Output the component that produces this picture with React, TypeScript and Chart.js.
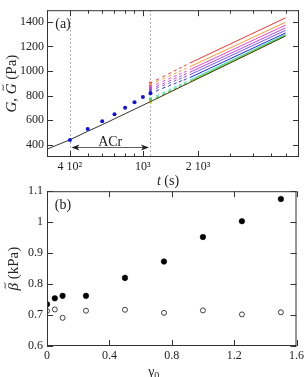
import React, { useEffect, useRef } from 'react';
import { Chart, registerables } from 'chart.js';
Chart.register(...registerables);

const SERIF = "'Liberation Serif', 'Times New Roman', serif";
const INK = '#222222';

// ---------- panel (a) ----------
const aXTicks = [300, 400, 500, 600, 700, 800, 900, 1000, 2000, 3000, 4000, 5000, 6000, 7000];
const aXTickLabels: Record<string, string> = { '400': '4 10²', '1000': '10³', '2000': '2 10³' };
const aYTicks = [400, 600, 800, 1000, 1200, 1400];
const markerTimes = [400, 1100];
const acrLabel = 'ACr';
const acrG = 382;

const preShearT = [400, 500, 600, 700, 800, 900, 1000, 1100];
const preShearG = [438, 528, 592, 648, 700, 746, 789, 818];

const masterT = [300, 400, 500, 600, 800, 1100, 1800, 3000, 6000];
const masterG = [364, 440, 509, 563, 652, 751, 906, 1066, 1285];

// colored recovery series: yellow (γ0 = 0) ... red (γ0 = 1.5)
const seriesColors = ['#e0e000', '#33cc33', '#33dddd', '#2222ee', '#7755ff', '#bb44ee', '#ee44cc', '#ff9933', '#ff3333'];
const startT = 1100;
const startG = [748, 762, 775, 820, 840, 853, 872, 890, 902];
const dashT = [1200, 1300, 1400, 1500, 1600, 1700];
const dashG = [
  [777, 803, 827, 850, 871, 891],
  [789, 814, 837, 858, 878, 897],
  [802, 826, 849, 870, 889, 908],
  [842, 863, 882, 899, 916, 931],
  [863, 884, 903, 921, 938, 954],
  [877, 899, 920, 939, 957, 973],
  [896, 919, 940, 959, 977, 994],
  [916, 939, 961, 981, 1000, 1018],
  [931, 957, 981, 1004, 1025, 1045],
];
const solidT = [1800, 6000];
const solidG = [
  [910, 1287],
  [915, 1292],
  [925, 1298],
  [946, 1310],
  [969, 1331],
  [989, 1351],
  [1010, 1374],
  [1035, 1397],
  [1064, 1433],
];

// ---------- panel (b) ----------
const gamma0 = [0, 0.05, 0.1, 0.25, 0.5, 0.75, 1, 1.25, 1.5];
const betaFilled = [0.735, 0.754, 0.762, 0.762, 0.82, 0.873, 0.952, 1.003, 1.075];
const betaOpen = [0.713, 0.718, 0.691, 0.714, 0.717, 0.707, 0.715, 0.702, 0.709];
const bXTicks = [0, 0.4, 0.8, 1.2, 1.6];
const bYTicks = [0.6, 0.7, 0.8, 0.9, 1.0, 1.1];

type Seg = { t: string; it?: boolean; tilde?: boolean; sub?: boolean };

const titleTopY: Seg[] = [{ t: 'G', it: true }, { t: ', ' }, { t: 'G', it: true, tilde: true }, { t: ' (Pa)' }];
const titleTopX: Seg[] = [{ t: 't', it: true }, { t: ' (s)' }];
const titleBotY: Seg[] = [{ t: 'β', it: true, tilde: true }, { t: ' (kPa)' }];
const titleBotX: Seg[] = [{ t: 'γ' }, { t: '0', sub: true }];

function pts(xs: number[], ys: number[]) {
  return xs.map((x, i) => ({ x, y: ys[i] }));
}

function drawRich(ctx: CanvasRenderingContext2D, segs: Seg[], cx: number, cy: number, size: number, rotate: boolean) {
  ctx.save();
  ctx.translate(cx, cy);
  if (rotate) ctx.rotate(-Math.PI / 2);
  ctx.fillStyle = INK;
  ctx.strokeStyle = INK;
  const fontFor = (s: Seg) => `${s.it ? 'italic ' : ''}${s.sub ? Math.round(size * 0.7) : size}px ${SERIF}`;
  let total = 0;
  const widths = segs.map((s) => {
    ctx.font = fontFor(s);
    const w = ctx.measureText(s.t).width;
    total += w;
    return w;
  });
  let x = -total / 2;
  ctx.textBaseline = 'alphabetic';
  ctx.textAlign = 'left';
  const base = size * 0.33;
  segs.forEach((s, i) => {
    ctx.font = fontFor(s);
    const y = base + (s.sub ? size * 0.22 : 0);
    ctx.fillText(s.t, x, y);
    if (s.tilde) {
      const mx = x + widths[i] / 2 + size * 0.08;
      const ty = y - size * 0.86;
      const hw = size * 0.2;
      ctx.lineWidth = 0.9;
      ctx.beginPath();
      ctx.moveTo(mx - hw, ty + 0.8);
      ctx.bezierCurveTo(mx - hw * 0.5, ty - 1.6, mx + hw * 0.1, ty + 2.0, mx + hw, ty - 0.8);
      ctx.stroke();
    }
    x += widths[i];
  });
  ctx.restore();
}

function decoPlugin(o: {
  xMajor: number[]; xMinor: number[]; yMajor: number[]; yMinor: number[];
  tag: string; vlines?: number[]; arrow?: boolean;
  xTitle: Seg[]; yTitle: Seg[]; xTitleDx: number; xTitleDy: number; yTitleDx: number;
}) {
  return {
    id: 'deco',
    beforeDatasetsDraw(chart: any) {
      const { ctx, chartArea: a, scales } = chart;
      if (o.vlines) {
        ctx.save();
        ctx.strokeStyle = '#999999';
        ctx.lineWidth = 1;
        ctx.setLineDash([1.5, 2.5]);
        for (const v of o.vlines) {
          const x = Math.round(scales.x.getPixelForValue(v)) + 0.5;
          ctx.beginPath();
          ctx.moveTo(x, a.top);
          ctx.lineTo(x, a.bottom);
          ctx.stroke();
        }
        ctx.restore();
      }
    },
    afterDraw(chart: any) {
      const { ctx, chartArea: a, scales } = chart;
      ctx.save();
      ctx.strokeStyle = '#333333';
      ctx.lineWidth = 1;
      ctx.strokeRect(a.left + 0.5, a.top + 0.5, a.right - a.left - 1, a.bottom - a.top - 1);
      const tick = (vals: number[], len: number, horiz: boolean) => {
        for (const v of vals) {
          if (horiz) {
            const x = Math.round(scales.x.getPixelForValue(v)) + 0.5;
            ctx.beginPath();
            ctx.moveTo(x, a.bottom); ctx.lineTo(x, a.bottom - len);
            ctx.moveTo(x, a.top); ctx.lineTo(x, a.top + len);
            ctx.stroke();
          } else {
            const y = Math.round(scales.y.getPixelForValue(v)) + 0.5;
            ctx.beginPath();
            ctx.moveTo(a.left, y); ctx.lineTo(a.left + len, y);
            ctx.moveTo(a.right, y); ctx.lineTo(a.right - len, y);
            ctx.stroke();
          }
        }
      };
      tick(o.xMajor, 6, true);
      tick(o.xMinor, 3.5, true);
      tick(o.yMajor, 6, false);
      tick(o.yMinor, 3.5, false);

      if (o.arrow) {
        const y = Math.round(scales.y.getPixelForValue(acrG)) + 0.5;
        const x1 = scales.x.getPixelForValue(markerTimes[0]) + 1.5;
        const x2 = scales.x.getPixelForValue(markerTimes[1]) - 1.5;
        ctx.strokeStyle = '#333333';
        ctx.fillStyle = '#222222';
        ctx.lineWidth = 0.8;
        ctx.beginPath();
        ctx.moveTo(x1 + 3, y); ctx.lineTo(x2 - 3, y);
        ctx.stroke();
        const head = (xt: number, dir: number) => {
          ctx.beginPath();
          ctx.moveTo(xt, y);
          ctx.lineTo(xt + dir * 8, y - 3);
          ctx.lineTo(xt + dir * 6, y);
          ctx.lineTo(xt + dir * 8, y + 3);
          ctx.closePath();
          ctx.fill();
        };
        head(x1, 1);
        head(x2, -1);
        ctx.font = `14px ${SERIF}`;
        ctx.textAlign = 'center';
        ctx.textBaseline = 'alphabetic';
        ctx.fillText(acrLabel, (x1 + x2) / 2, y - 2);
      }

      ctx.fillStyle = INK;
      ctx.font = `14px ${SERIF}`;
      ctx.textAlign = 'center';
      ctx.textBaseline = 'middle';
      ctx.fillText(o.tag, a.left + 16, a.top + 14);
      ctx.restore();

      drawRich(ctx, o.xTitle, (a.left + a.right) / 2 + o.xTitleDx, a.bottom + o.xTitleDy, 14, false);
      drawRich(ctx, o.yTitle, a.left + o.yTitleDx, (a.top + a.bottom) / 2, 15, true);
    },
  };
}

function tickFont(size = 12) {
  return { family: SERIF, size };
}

export default function App() {
  const topRef = useRef<HTMLCanvasElement>(null);
  const botRef = useRef<HTMLCanvasElement>(null);

  useEffect(() => {
    const datasetsA: any[] = [
      {
        data: pts(preShearT, preShearG),
        showLine: false,
        pointRadius: 2,
        pointBackgroundColor: '#1010e0',
        pointBorderWidth: 0,
      },
      {
        data: pts(masterT, masterG),
        showLine: true,
        borderColor: '#333333',
        borderWidth: 1,
        pointRadius: 0,
      },
    ];
    seriesColors.forEach((c, i) => {
      datasetsA.push({
        data: [{ x: startT, y: startG[i] }],
        showLine: false,
        pointStyle: 'rect',
        pointRadius: 2,
        pointBackgroundColor: c,
        pointBorderWidth: 0,
      });
      datasetsA.push({
        data: pts(dashT, dashG[i]),
        showLine: false,
        pointStyle: 'line',
        pointRadius: 1.6,
        pointRotation: -28,
        pointBorderColor: c,
        pointBorderWidth: 1,
      });
      datasetsA.push({
        data: pts(solidT, solidG[i]),
        showLine: true,
        borderColor: c,
        borderWidth: 1,
        pointRadius: 0,
      });
    });

    const a = new Chart(topRef.current!, {
      type: 'scatter',
      data: { datasets: datasetsA },
      options: {
        animation: false,
        responsive: false,
        events: [],
        layout: { padding: { top: 2, right: 8, left: 0, bottom: 0 } },
        plugins: { legend: { display: false }, tooltip: { enabled: false } },
        scales: {
          x: {
            type: 'logarithmic',
            min: 300,
            max: 7100,
            afterBuildTicks: (s: any) => { s.ticks = aXTicks.map((v) => ({ value: v })); },
            afterFit: (s: any) => { s.height = 33; },
            ticks: {
              autoSkip: false,
              maxRotation: 0,
              padding: 3,
              color: INK,
              font: tickFont(12),
              callback: (v: any) => aXTickLabels[String(v)] ?? '',
            },
            grid: { display: false, drawTicks: false },
            border: { display: false },
          },
          y: {
            type: 'linear',
            min: 300,
            max: 1495,
            afterBuildTicks: (s: any) => { s.ticks = aYTicks.map((v) => ({ value: v })); },
            afterFit: (s: any) => { s.width = 47; },
            ticks: { padding: 3, color: INK, font: tickFont(12), callback: (v: any) => String(v) },
            grid: { display: false, drawTicks: false },
            border: { display: false },
          },
        },
      },
      plugins: [decoPlugin({
        xMajor: [400, 1000, 2000],
        xMinor: aXTicks.filter((v) => ![400, 1000, 2000].includes(v)),
        yMajor: aYTicks,
        yMinor: [],
        tag: '(a)',
        vlines: markerTimes,
        arrow: true,
        xTitle: titleTopX,
        yTitle: titleTopY,
        xTitleDx: -5,
        xTitleDy: 23,
        yTitleDx: -36,
      })],
    } as any);

    const b = new Chart(botRef.current!, {
      type: 'scatter',
      data: {
        datasets: [
          {
            data: pts(gamma0, betaFilled),
            pointRadius: 2.8,
            pointBackgroundColor: '#000000',
            pointBorderColor: '#000000',
            pointBorderWidth: 0.5,
          },
          {
            data: pts(gamma0, betaOpen),
            pointRadius: 2.5,
            pointBackgroundColor: '#ffffff',
            pointBorderColor: '#111111',
            pointBorderWidth: 0.8,
          },
        ],
      },
      options: {
        animation: false,
        responsive: false,
        events: [],
        layout: { padding: { top: 11, right: 8, left: 0, bottom: 0 } },
        plugins: { legend: { display: false }, tooltip: { enabled: false } },
        scales: {
          x: {
            type: 'linear',
            min: 0,
            max: 1.6,
            afterBuildTicks: (s: any) => { s.ticks = bXTicks.map((v) => ({ value: v })); },
            afterFit: (s: any) => { s.height = 31; },
            ticks: {
              autoSkip: false,
              maxRotation: 0,
              padding: 3,
              color: INK,
              font: tickFont(12),
              callback: (v: any) => String(v),
            },
            grid: { display: false, drawTicks: false },
            border: { display: false },
          },
          y: {
            type: 'linear',
            min: 0.6,
            max: 1.1,
            afterBuildTicks: (s: any) => { s.ticks = bYTicks.map((v) => ({ value: v })); },
            afterFit: (s: any) => { s.width = 47; },
            ticks: { padding: 4, color: INK, font: tickFont(12), callback: (v: any) => String(v) },
            grid: { display: false, drawTicks: false },
            border: { display: false },
          },
        },
      },
      plugins: [decoPlugin({
        xMajor: bXTicks,
        xMinor: [],
        yMajor: bYTicks,
        yMinor: [],
        tag: '(b)',
        xTitle: titleBotX,
        yTitle: titleBotY,
        xTitleDx: -18,
        xTitleDy: 25,
        yTitleDx: -34,
      })],
    } as any);

    return () => {
      a.destroy();
      b.destroy();
    };
  }, []);

  return (
    <div style={{ position: 'absolute', left: 0, top: 0, width: 307, height: 377, background: '#ffffff' }}>
      <canvas ref={topRef} width={307} height={190} style={{ position: 'absolute', left: 0, top: 0 }} />
      <canvas ref={botRef} width={307} height={197} style={{ position: 'absolute', left: 0, top: 180 }} />
    </div>
  );
}
